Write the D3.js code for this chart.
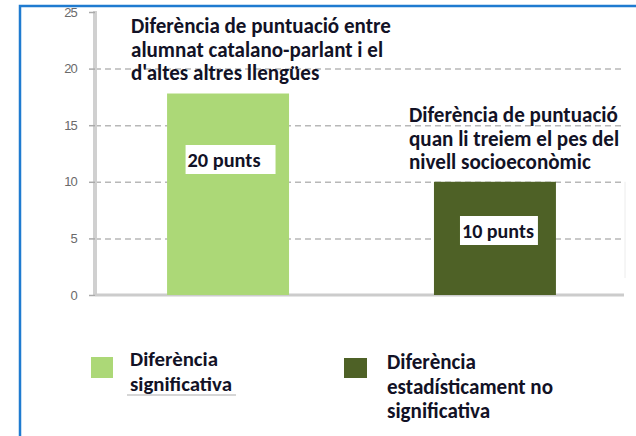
<!DOCTYPE html>
<html>
<head>
<meta charset="utf-8">
<script src="https://cdn.jsdelivr.net/npm/d3@7"></script>
<style>
body { margin: 0; background: #fff; }
</style>
</head>
<body>
<script>
// chart values
var categories = ["Diferència significativa", "Diferència estadísticament no significativa"];
var values = [17.8, 10];
var barLabels = ["20 punts", "10 punts"];
var yTicks = [0, 5, 10, 15, 20, 25];
var notes = [
  ["Diferència de puntuació entre", "alumnat catalano-parlant i el", "d'altes altres llengües"],
  ["Diferència de puntuació", "quan li treiem el pes del", "nivell socioeconòmic"]
];
var legendLines = [
  ["Diferència", "significativa"],
  ["Diferència", "estadísticament no", "significativa"]
];
var colors = ["#acd877", "#4e6126"];

var W = 636, H = 436;
var axisX = 95, gridRight = 624;
var fontF = "Carlito, Calibri, 'Open Sans', sans-serif";
var ink = "#121226";

var svg = d3.select("body").append("svg")
    .attr("width", W)
    .attr("height", H);

var y = d3.scaleLinear().domain([0, 25]).range([295, 12]);
var x = d3.scaleBand().domain(categories)
    .range([axisX, 628])
    .paddingInner(0.543)
    .paddingOuter(0.27);

// size a text so that its first line gets the wanted width
function fitWidth(t, target) {
    var first = t.select("tspan").node() || t.node();
    var w = first.getComputedTextLength();
    var fs = parseFloat(t.style("font-size"));
    t.style("font-size", (fs * target / w) + "px");
}

// dashed grid
svg.append("g")
    .attr("transform", "translate(" + axisX + ",0)")
    .call(d3.axisRight(y).tickValues(yTicks.filter(function(d){ return d > 0 && d < 25; }))
        .tickSize(gridRight - axisX).tickFormat(""))
    .call(function(g){
        g.select(".domain").remove();
        g.selectAll("line")
          .attr("stroke", "#b8b8b8")
          .attr("stroke-width", 1.5)
          .attr("stroke-dasharray", "6,4");
    });

// faint right edge of the plot
svg.append("line")
    .attr("x1", 625).attr("x2", 625)
    .attr("y1", y(10)).attr("y2", y(1.5))
    .attr("stroke", "#ececec").attr("stroke-width", 1);

// y axis
svg.append("g")
    .attr("transform", "translate(" + axisX + ",0)")
    .call(d3.axisLeft(y).tickValues(yTicks).tickSize(6).tickPadding(12))
    .call(function(g){
        g.select(".domain").attr("stroke", "#d0d0d0").attr("stroke-width", 4)
          .attr("d", "M0," + (y(25) - 1) + "V" + y(0));
        g.selectAll("line").attr("stroke", "#aaaaaa").attr("stroke-width", 1.5);
        g.selectAll("text")
          .attr("fill", "#6a6a6a")
          .style("font-family", "'Liberation Sans', Arial, sans-serif")
          .style("font-size", "13px")
          .style("letter-spacing", "-0.8px");
    });

// baseline
svg.append("line")
    .attr("x1", axisX).attr("x2", gridRight)
    .attr("y1", y(0)).attr("y2", y(0))
    .attr("stroke", "#cccccc")
    .attr("stroke-width", 3);

// bars
svg.selectAll(".bar")
    .data(values)
    .enter().append("rect")
    .attr("class", "bar")
    .attr("x", function(d, i){ return x(categories[i]); })
    .attr("y", function(d){ return y(d); })
    .attr("width", x.bandwidth())
    .attr("height", function(d){ return y(0) - y(d); })
    .attr("fill", function(d, i){ return colors[i]; });

// labels in white boxes
var labBase = [167, 238];
var labW = [73, 72];
var boxPadR = [15, 4];
svg.selectAll(".blab")
    .data(barLabels)
    .enter().append("g")
    .attr("class", "blab")
    .each(function(t, i){
        var g = d3.select(this);
        var cx = x(categories[i]) + x.bandwidth() / 2;
        var txt = g.append("text")
            .attr("x", cx - (i === 0 ? 4 : -3)).attr("y", labBase[i])
            .attr("text-anchor", "middle")
            .style("font-family", fontF)
            .style("font-weight", "bold")
            .style("font-size", "18px")
            .attr("fill", ink)
            .text(t);
        fitWidth(txt, labW[i]);
        var bb = txt.node().getBBox();
        g.insert("rect", "text")
            .attr("x", bb.x - 2).attr("y", labBase[i] - 22)
            .attr("width", bb.width + 2 + boxPadR[i]).attr("height", 29)
            .attr("fill", "#fff");
    });

// annotations
var notePos = [[131, 33, 23.5, 260], [409, 122, 23.5, 209]];
notes.forEach(function(lines, i){
    var t = svg.append("text")
        .attr("x", notePos[i][0])
        .attr("y", notePos[i][1])
        .style("font-family", fontF)
        .style("font-weight", "bold")
        .style("font-size", "20px")
        .attr("fill", ink);
    lines.forEach(function(l, j){
        t.append("tspan")
            .attr("x", notePos[i][0])
            .attr("dy", j === 0 ? 0 : notePos[i][2])
            .text(l);
    });
    fitWidth(t, notePos[i][3]);
});

// legend
var legSq = [[91, 357, 22, 21], [344, 358, 23, 20]];
var legTxt = [[130, 366, 24.5, 88], [387, 369, 24.5, 89]];
categories.forEach(function(c, i){
    svg.append("rect")
        .attr("x", legSq[i][0]).attr("y", legSq[i][1])
        .attr("width", legSq[i][2]).attr("height", legSq[i][3])
        .attr("fill", colors[i]);
    var t = svg.append("text")
        .attr("x", legTxt[i][0])
        .attr("y", legTxt[i][1])
        .style("font-family", fontF)
        .style("font-weight", "bold")
        .style("font-size", "20px")
        .attr("fill", ink);
    legendLines[i].forEach(function(l, j){
        t.append("tspan")
            .attr("x", legTxt[i][0])
            .attr("dy", j === 0 ? 0 : legTxt[i][2])
            .text(l);
    });
    fitWidth(t, legTxt[i][3]);
});
// underline under first legend entry
svg.append("line")
    .attr("x1", 127).attr("x2", 236)
    .attr("y1", 395).attr("y2", 395)
    .attr("stroke", "#c8c8c8").attr("stroke-width", 1.5);

// blue frame on top
svg.append("rect")
    .attr("x", 20).attr("y", 6)
    .attr("width", 640).attr("height", 460)
    .attr("fill", "none")
    .attr("stroke", "#1f7bd0")
    .attr("stroke-width", 2.5);
</script>
</body>
</html>
